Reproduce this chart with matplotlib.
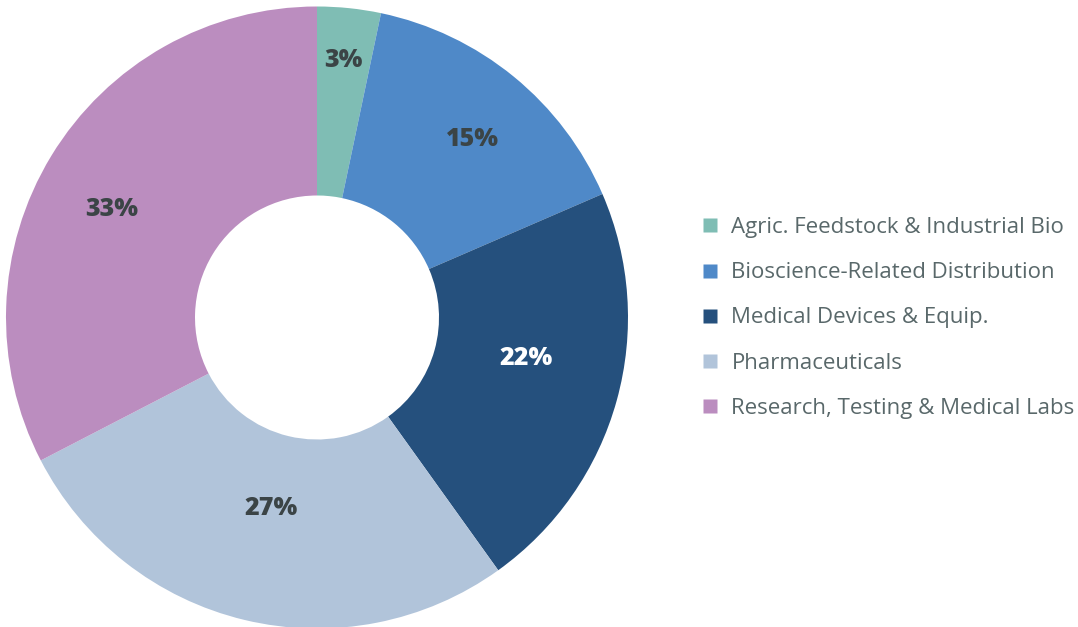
import matplotlib
matplotlib.use("Agg")
import matplotlib.pyplot as plt
import numpy as np
from matplotlib.lines import Line2D

categories = ["Agric. Feedstock & Industrial Bio", "Bioscience-Related Distribution",
              "Medical Devices & Equip.", "Pharmaceuticals", "Research, Testing & Medical Labs"]
values = [3.3, 15.2, 21.6, 27.3, 32.6]
colors = ["#7fbdb4", "#4f89c8", "#25507d", "#b1c4da", "#bb8dbf"]
label_colors = ["#3b4446", "#3b4446", "#ffffff", "#3b4446", "#3b4446"]
label_radius = [0.83, 0.76, 0.685, 0.63, 0.745]
label_shift = [0, -2, 4.5, 0, 3.5]

plt.rcParams['font.family'] = ['Open Sans', 'DejaVu Sans']

W, H = 1078, 627
fig = plt.figure(figsize=(W / 100, H / 100), dpi=100)
cx, cy, R = 317, 317.5, 311
ax = fig.add_axes([(cx - R) / W, (H - cy - R) / H, 2 * R / W, 2 * R / H])
wedges, _ = ax.pie(values, colors=colors, startangle=90, counterclock=False,
                   radius=1.0, wedgeprops=dict(width=1 - 122 / 311, linewidth=0))
ax.set_xlim(-1, 1)
ax.set_ylim(-1, 1)
ax.set_aspect('equal')
ax.axis('off')

total = sum(values)
cum = 0
for v, lc, r, s in zip(values, label_colors, label_radius, label_shift):
    mid = 90 - 360 * (cum + v / 2) / total + s
    cum += v
    ang = np.deg2rad(mid)
    ax.text(r * np.cos(ang), r * np.sin(ang), f"{round(v / total * 100):.0f}%",
            ha='center', va='center', fontsize=18, fontweight='heavy', color=lc)

handles = [Line2D([0], [0], marker='s', linestyle='none', markersize=10,
                  markerfacecolor=c, markeredgecolor='none') for c in colors]
leg = fig.legend(handles, categories, loc='center left',
                 bbox_to_anchor=(691 / W, 1 - 318 / H), frameon=False,
                 fontsize=16, labelcolor='#59686a', handlelength=0.7,
                 handletextpad=0.62, labelspacing=1.09, borderpad=0)
fig.savefig("out.png", dpi=100)
